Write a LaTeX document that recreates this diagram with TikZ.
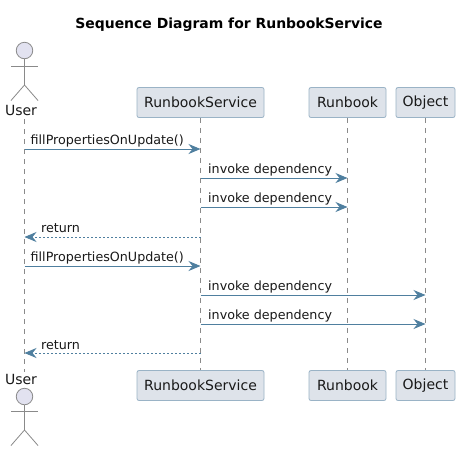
\documentclass[tikz,border=0pt]{standalone}
\usepackage{fontspec}
\setmainfont{DejaVu Sans}
\usetikzlibrary{arrows.meta,calc}
\definecolor{boxfill}{HTML}{DEE3EA}
\definecolor{boxline}{HTML}{9AB3C6}
\definecolor{arrowc}{HTML}{4F7F9F}
\definecolor{lifec}{HTML}{8A8A8A}
\definecolor{actorfill}{HTML}{E2E2F0}
\tikzset{
  x=1pt,y=-1pt,
  partbox/.style={draw=boxline,fill=boxfill,line width=0.8pt,rounded corners=2pt,inner sep=0pt,minimum height=30pt,font=\fontsize{14}{16}\selectfont,text=black!90},
  lifeline/.style={draw=lifec,line width=0.8pt,dash pattern=on 5pt off 5pt},
  msg/.style={draw=arrowc,line width=1pt,-{Stealth[length=12pt,width=10pt,inset=4pt,fill=arrowc]}},
  ret/.style={draw=arrowc,line width=0.7pt,dash pattern=on 2pt off 2pt,-{Stealth[length=12pt,width=10pt,inset=4pt,fill=arrowc]}},
  msglabel/.style={anchor=base west,inner sep=0pt,font=\fontsize{12.7}{15}\selectfont,text=black!90},
  actorlabel/.style={anchor=base,inner sep=0pt,font=\fontsize{14}{16}\selectfont,text=black!90},
  limb/.style={draw=lifec,line width=0.8pt},
  head/.style={draw=lifec,fill=actorfill,line width=0.8pt,circle,minimum size=16.5pt,inner sep=0pt},
  titlelabel/.style={anchor=base,inner sep=0pt,font=\fontsize{13.95}{16}\selectfont\bfseries,text=black}
}
\begin{document}
\begin{tikzpicture}
\useasboundingbox (0,0) rectangle (460,451);
\fill[white] (0,0) rectangle (460,451);
\node[titlelabel] (title) at (229,28) {Sequence Diagram for RunbookService};

% participant boxes
\node[partbox,minimum width=127pt] (svcT) at (200.5,102.5) {RunbookService};
\node[partbox,minimum width=77pt] (rbT) at (347.5,102.5) {Runbook};
\node[partbox,minimum width=59pt] (objT) at (425.5,102.5) {Object};
\node[partbox,minimum width=127pt] (svcB) at (200.5,385.5) {RunbookService};
\node[partbox,minimum width=77pt] (rbB) at (347.5,385.5) {Runbook};
\node[partbox,minimum width=59pt] (objB) at (425.5,385.5) {Object};

% actor labels
\node[actorlabel] (userT) at (21,115) {User};
\node[actorlabel] (userB) at (21,384) {User};
\coordinate (uT) at (24.5,119);
\coordinate (uB) at (24.5,372);

% lifelines
\draw[lifeline] (uT) -- (uB);
\draw[lifeline] (svcT.south) -- (svcB.north);
\draw[lifeline] (rbT.south) -- (rbB.north);
\draw[lifeline] (objT.south) -- (objB.north);

% top actor
\node[head] (headT) at (24.5,50.5) {};
\coordinate (hipT) at (24.5,85);
\draw[limb] (headT.south) -- (hipT);
\draw[limb] (11,66) -- (38,66);
\draw[limb] (11,100.5) -- (hipT) -- (38,100.5);

% bottom actor
\node[head] (headB) at (24.5,396.5) {};
\coordinate (hipB) at (24.5,430);
\draw[limb] (headB.south) -- (hipB);
\draw[limb] (11,411) -- (38,411);
\draw[limb] (11,445.5) -- (hipB) -- (38,445.5);

% messages
\foreach \n/\y in {1/149,2/178,3/207,4/237,5/266,6/295,7/324,8/353}{
  \coordinate (u\n) at (24.5,\y);
  \coordinate (s\n) at (200.5,\y);
  \coordinate (r\n) at (347.5,\y);
  \coordinate (o\n) at (425.5,\y);
}
\draw[msg] (u1) -- (s1);
\node[msglabel] (l1) at (30.5,144) {fillPropertiesOnUpdate()};
\draw[msg] (s2) -- (r2);
\node[msglabel] (l2) at (208,173) {invoke dependency};
\draw[msg] (s3) -- (r3);
\node[msglabel] (l3) at (208,202) {invoke dependency};
\draw[ret] (s4) -- (u4);
\node[msglabel] (l4) at (41,232) {return};
\draw[msg] (u5) -- (s5);
\node[msglabel] (l5) at (30.5,261) {fillPropertiesOnUpdate()};
\draw[msg] (s6) -- (o6);
\node[msglabel] (l6) at (208,290) {invoke dependency};
\draw[msg] (s7) -- (o7);
\node[msglabel] (l7) at (208,319) {invoke dependency};
\draw[ret] (s8) -- (u8);
\node[msglabel] (l8) at (41,349) {return};
\end{tikzpicture}
\end{document}
